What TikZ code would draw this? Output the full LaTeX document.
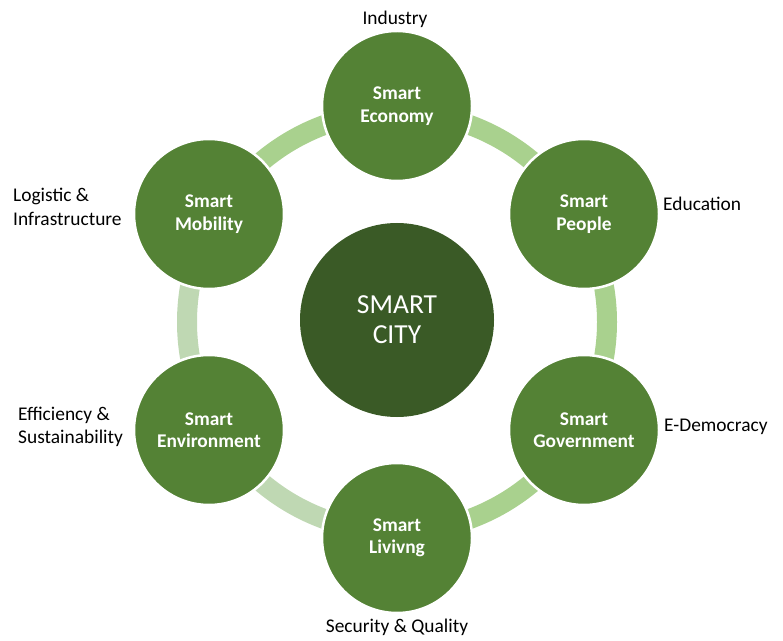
\documentclass[tikz,border=0pt]{standalone}
\usepackage{fontspec}
\setmainfont{Carlito}
\definecolor{outerg}{HTML}{548235}
\definecolor{centerg}{HTML}{3A5A26}
\definecolor{arcA}{HTML}{A9D18E}
\definecolor{arcB}{HTML}{BFD8B3}
\begin{document}
\begin{tikzpicture}[x=1pt,y=1pt,
  pillar/.style={circle, minimum size=150pt, inner sep=0pt, fill=outerg, draw=white, line width=2.5pt,
    text=white, font=\fontsize{19.4}{22.5}\selectfont\bfseries, align=center},
  hub/.style={circle, minimum size=194pt, inner sep=0pt, fill=centerg,
    text=white, font=\fontsize{27.5}{30}\selectfont, align=center},
  band/.style={line width=20pt},
  lbl/.style={font=\fontsize{19.4}{23.5}\selectfont, inner sep=0pt, text=black}]
\useasboundingbox (0,0) rectangle (783,640);
\coordinate (C) at (397,318);
% ring bands
\draw[band, arcA] (C) ++(90:210) arc[start angle=90, end angle=30, radius=210];
\draw[band, arcA] (C) ++(30:210) arc[start angle=30, end angle=-30, radius=210];
\draw[band, arcA] (C) ++(-30:210) arc[start angle=-30, end angle=-90, radius=210];
\draw[band, arcB] (C) ++(-90:210) arc[start angle=-90, end angle=-150, radius=210];
\draw[band, arcB] (C) ++(-150:210) arc[start angle=-150, end angle=-210, radius=210];
\draw[band, arcA] (C) ++(150:210) arc[start angle=150, end angle=90, radius=210];
% nodes
\node[hub] (city) at (397,320) {SMART\\CITY};
\node[pillar] (eco) at (397,534) {Smart\\Economy};
\node[pillar] (peo) at (584,426) {Smart\\People};
\node[pillar] (gov) at (584,210) {Smart\\Government};
\node[pillar] (liv) at (397,102) {Smart\\Livivng};
\node[pillar] (env) at (209,210) {Smart\\Environment};
\node[pillar] (mob) at (209,426) {Smart\\Mobility};
% labels
\node[lbl] (lind) at (395,621) {Industry};
\node[lbl, anchor=west] (ledu) at (663,436) {Education};
\node[lbl, anchor=west] (ldem) at (664,213) {E-Democracy};
\node[lbl] (lsec) at (397,13) {Security \& Quality};
\node[lbl, anchor=west, align=left] (leff) at (18,213) {Efficiency \&\\Sustainability};
\node[lbl, anchor=west, align=left] (llog) at (13,433) {Logistic \&\\Infrastructure};
\end{tikzpicture}
\end{document}
